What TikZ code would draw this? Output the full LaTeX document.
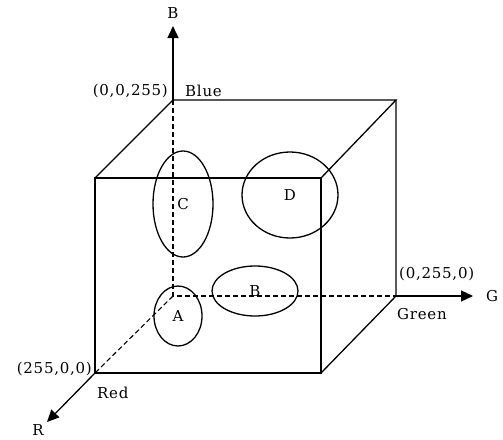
\documentclass[tikz,border=0pt]{standalone}
\usepackage{fontspec}
\setmainfont{DejaVu Serif}[LetterSpace=5]
\usetikzlibrary{arrows.meta,shapes.geometric}

\begin{document}
\begin{tikzpicture}[x=1pt,y=-1pt,
  edge/.style={draw=black,line width=1.3pt},
  hidden/.style={edge,line width=1.1pt,dash pattern=on 5pt off 3pt},
  axis/.style={edge,-{Triangle[length=12pt,width=11pt]}},
  blob/.style={ellipse,draw=black,line width=1.3pt,inner sep=0pt,font=\fontsize{15}{17}\selectfont},
  tag/.style={font=\fontsize{15}{17}\selectfont,inner sep=1pt}
]
\useasboundingbox (0,0) rectangle (503,439);
% corners of the cube
\coordinate (black) at (173,296);
\coordinate (blue) at (173,100);
\coordinate (green) at (396,296);
\coordinate (cyan) at (396,100);
\coordinate (red) at (95,373);
\coordinate (magenta) at (95,178);
\coordinate (yellow) at (321,373);
\coordinate (white) at (321,178);
\coordinate (tipB) at (173,26);
\coordinate (tipG) at (473,296);
\coordinate (tipR) at (47,422);
\draw[edge] (red) -- (magenta) -- (white) -- (yellow) -- cycle;
\draw[edge] (magenta) -- (blue) -- (cyan) -- (white);
\draw[edge] (cyan) -- (green) -- (yellow);
\draw[hidden] (blue) -- (black) -- (green);
\draw[hidden] (black) -- (red);
% axes
\draw[axis] (blue) -- (tipB);
\draw[axis] (green) -- (tipG);
\draw[axis] (red) -- (tipR);
\node[tag] (axB) at (173,13) {B};
\node[tag] (axG) at (492,296) {G};
\node[tag] (axR) at (38,430) {R};
\node[tag,anchor=east] (vBlue) at (169,91) {(0,0,255)};
\node[tag,anchor=west] (nBlue) at (184,91) {Blue};
\node[tag,anchor=west] (vGreen) at (398,274) {(0,255,0)};
\node[tag,anchor=west] (nGreen) at (396,314) {Green};
\node[tag,anchor=east] (vRed) at (93,369) {(255,0,0)};
\node[tag,anchor=west] (nRed) at (96,393) {Red};
% regions
\node[blob,minimum width=60pt,minimum height=106pt] (C) at (183,204) {C};
\node[blob,minimum width=96pt,minimum height=86pt] (D) at (290,195) {D};
\node[blob,minimum width=86pt,minimum height=50pt] (B) at (255,291) {B};
\node[blob,minimum width=48pt,minimum height=60pt] (A) at (178,316) {A};
\end{tikzpicture}
\end{document}
